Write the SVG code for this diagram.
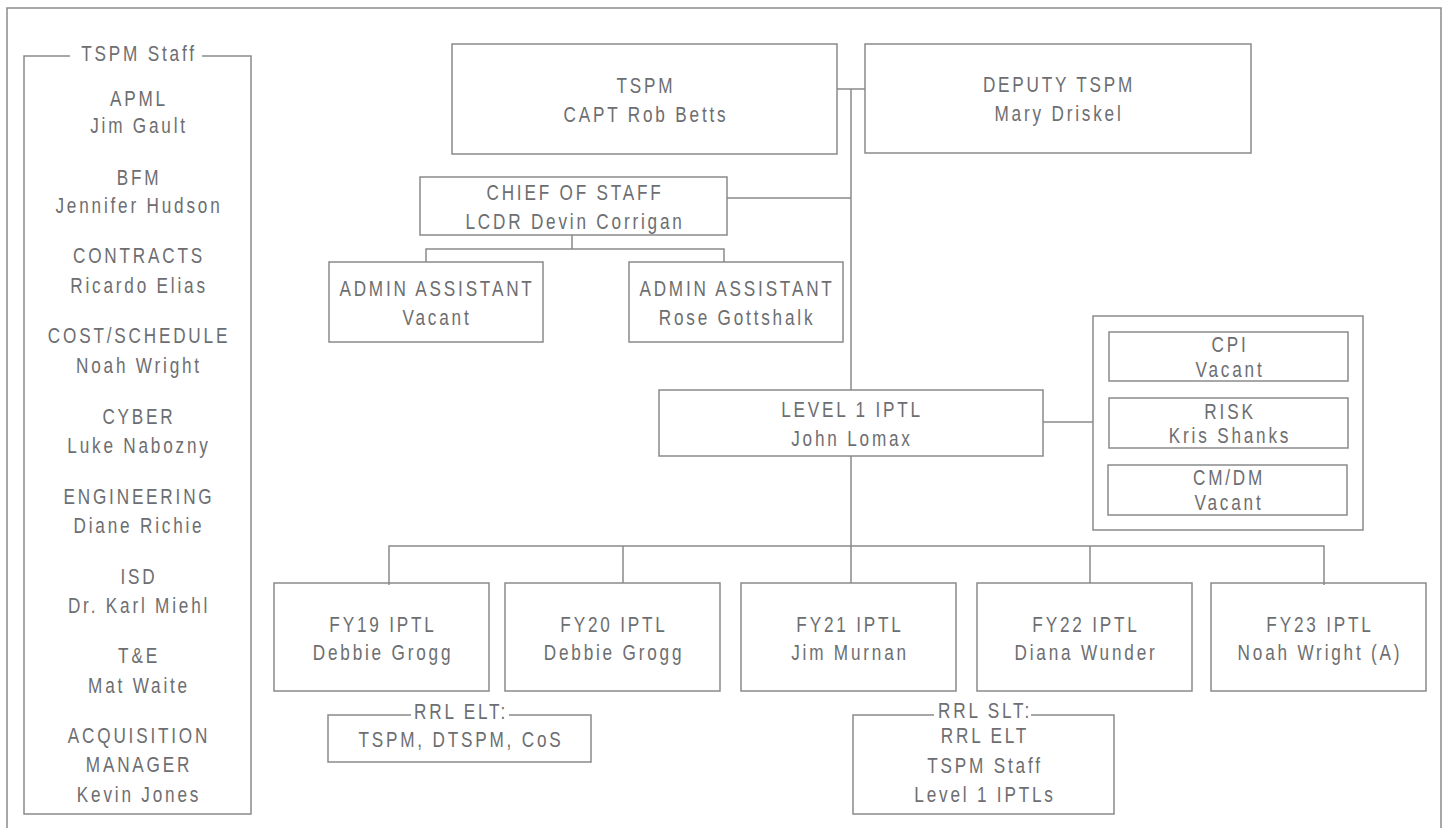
<svg xmlns="http://www.w3.org/2000/svg" width="1449" height="828" viewBox="0 0 1449 828">
<style>
.b{fill:none;stroke:#8a8a8a;stroke-width:1.5}
.c{fill:none;stroke:#8a8a8a;stroke-width:1.5}
.t{font-family:"Liberation Sans",Arial,sans-serif;font-size:22px;fill:#6d6e71;letter-spacing:3.6px;text-anchor:middle}
</style>
<rect width="1449" height="828" fill="#ffffff"/>
<path class="b" d="M7,830 V8 H1441 V830"/>
<g id="staff">
<path class="b" d="M70,56 H24 V814 H251 V56 H202"/>
<g class="t">
<text transform="translate(139 61) scale(.78 1)">TSPM Staff</text>
<text transform="translate(139 106) scale(.78 1)">APML</text>
<text transform="translate(139 133) scale(.78 1)">Jim Gault</text>
<text transform="translate(139 185) scale(.78 1)">BFM</text>
<text transform="translate(139 213) scale(.78 1)">Jennifer Hudson</text>
<text transform="translate(139 263) scale(.78 1)">CONTRACTS</text>
<text transform="translate(139 293) scale(.78 1)">Ricardo Elias</text>
<text transform="translate(139 343) scale(.78 1)">COST/SCHEDULE</text>
<text transform="translate(139 373) scale(.78 1)">Noah Wright</text>
<text transform="translate(139 424) scale(.78 1)">CYBER</text>
<text transform="translate(139 453) scale(.78 1)">Luke Nabozny</text>
<text transform="translate(139 504) scale(.78 1)">ENGINEERING</text>
<text transform="translate(139 533) scale(.78 1)">Diane Richie</text>
<text transform="translate(139 584) scale(.78 1)">ISD</text>
<text transform="translate(139 613) scale(.78 1)">Dr. Karl Miehl</text>
<text transform="translate(139 663) scale(.78 1)">T&amp;E</text>
<text transform="translate(139 693) scale(.78 1)">Mat Waite</text>
<text transform="translate(139 743) scale(.78 1)">ACQUISITION</text>
<text transform="translate(139 772) scale(.78 1)">MANAGER</text>
<text transform="translate(139 802) scale(.78 1)">Kevin Jones</text>
</g>
</g>
<g id="connectors">
<path class="c" d="M837,89 H865"/>
<path class="c" d="M851,89 V390 M851,456 V546"/>
<path class="c" d="M727,198 H851"/>
<path class="c" d="M572,235 V249 M426,262 V249 H724 V262"/>
<path class="c" d="M1043,422 H1093"/>
<path class="c" d="M389,585 V546 H1324 V585 M623,546 V583 M851,546 V583 M1090,546 V583"/>
</g>
<g id="tspm">
<rect class="b" x="452" y="44" width="385" height="110"/>
<text class="t" transform="translate(646 93) scale(.78 1)">TSPM</text>
<text class="t" transform="translate(646 122) scale(.78 1)">CAPT Rob Betts</text>
</g>
<g id="deputy">
<rect class="b" x="865" y="44" width="386" height="109"/>
<text class="t" transform="translate(1059 92) scale(.78 1)">DEPUTY TSPM</text>
<text class="t" transform="translate(1059 121) scale(.78 1)">Mary Driskel</text>
</g>
<g id="cos">
<rect class="b" x="420" y="177" width="307" height="58"/>
<text class="t" transform="translate(575 200) scale(.78 1)">CHIEF OF STAFF</text>
<text class="t" transform="translate(575 229) scale(.78 1)">LCDR Devin Corrigan</text>
</g>
<g id="admin1">
<rect class="b" x="329" y="262" width="214" height="80"/>
<text class="t" transform="translate(437 296) scale(.78 1)">ADMIN ASSISTANT</text>
<text class="t" transform="translate(437 325) scale(.78 1)">Vacant</text>
</g>
<g id="admin2">
<rect class="b" x="629" y="262" width="214" height="80"/>
<text class="t" transform="translate(737 296) scale(.78 1)">ADMIN ASSISTANT</text>
<text class="t" transform="translate(737 325) scale(.78 1)">Rose Gottshalk</text>
</g>
<g id="level1">
<rect class="b" x="659" y="390" width="384" height="66"/>
<text class="t" transform="translate(852 417) scale(.78 1)">LEVEL 1 IPTL</text>
<text class="t" transform="translate(852 446) scale(.78 1)">John Lomax</text>
</g>
<g id="support">
<rect class="b" x="1093" y="316" width="270" height="214"/>
<g id="cpi">
<rect class="b" x="1109" y="332" width="239" height="49"/>
<text class="t" transform="translate(1230 352) scale(.78 1)">CPI</text>
<text class="t" transform="translate(1230 377) scale(.78 1)">Vacant</text>
</g>
<g id="risk">
<rect class="b" x="1109" y="398" width="239" height="50"/>
<text class="t" transform="translate(1230 419) scale(.78 1)">RISK</text>
<text class="t" transform="translate(1230 443) scale(.78 1)">Kris Shanks</text>
</g>
<g id="cmdm">
<rect class="b" x="1108" y="465" width="239" height="50"/>
<text class="t" transform="translate(1229 485) scale(.78 1)">CM/DM</text>
<text class="t" transform="translate(1229 510) scale(.78 1)">Vacant</text>
</g>
</g>
<g id="fy19">
<rect class="b" x="274" y="583" width="215" height="108"/>
<text class="t" transform="translate(383 632) scale(.78 1)">FY19 IPTL</text>
<text class="t" transform="translate(383 660) scale(.78 1)">Debbie Grogg</text>
</g>
<g id="fy20">
<rect class="b" x="505" y="583" width="215" height="108"/>
<text class="t" transform="translate(614 632) scale(.78 1)">FY20 IPTL</text>
<text class="t" transform="translate(614 660) scale(.78 1)">Debbie Grogg</text>
</g>
<g id="fy21">
<rect class="b" x="741" y="583" width="215" height="108"/>
<text class="t" transform="translate(850 632) scale(.78 1)">FY21 IPTL</text>
<text class="t" transform="translate(850 660) scale(.78 1)">Jim Murnan</text>
</g>
<g id="fy22">
<rect class="b" x="977" y="583" width="215" height="108"/>
<text class="t" transform="translate(1086 632) scale(.78 1)">FY22 IPTL</text>
<text class="t" transform="translate(1086 660) scale(.78 1)">Diana Wunder</text>
</g>
<g id="fy23">
<rect class="b" x="1211" y="583" width="215" height="108"/>
<text class="t" transform="translate(1320 632) scale(.78 1)">FY23 IPTL</text>
<text class="t" transform="translate(1320 660) scale(.78 1)">Noah Wright (A)</text>
</g>
<g id="rrl-elt">
<path class="b" d="M411,715 H328 V762 H591 V715 H509"/>
<text class="t" transform="translate(461 719) scale(.78 1)">RRL ELT:</text>
<text class="t" transform="translate(461 747) scale(.78 1)">TSPM, DTSPM, CoS</text>
</g>
<g id="rrl-slt">
<path class="b" d="M934,715 H853 V814 H1114 V715 H1031"/>
<text class="t" transform="translate(985 718) scale(.78 1)">RRL SLT:</text>
<text class="t" transform="translate(985 743) scale(.78 1)">RRL ELT</text>
<text class="t" transform="translate(985 773) scale(.78 1)">TSPM Staff</text>
<text class="t" transform="translate(985 802) scale(.78 1)">Level 1 IPTLs</text>
</g>
</svg>
